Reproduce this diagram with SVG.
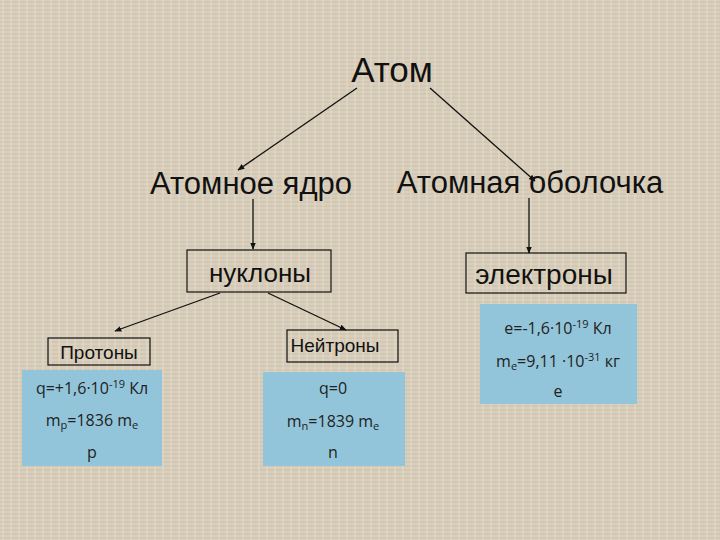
<svg xmlns="http://www.w3.org/2000/svg" width="720" height="540" viewBox="0 0 720 540">
<defs>
<marker id="ah" viewBox="0 0 10 10" refX="9" refY="5" markerWidth="7" markerHeight="7" orient="auto" markerUnits="userSpaceOnUse">
<path d="M0,1 L10,5 L0,9 z" fill="#111"/>
</marker>
<pattern id="tex" width="8" height="8" patternUnits="userSpaceOnUse">
<rect width="8" height="8" fill="#d9cfbd"/>
<path d="M0,2 H8 M0,6 H8" stroke="#cdbfa9" stroke-width="1"/>
<path d="M3,0 V8" stroke="#e4dccb" stroke-width="1"/>
</pattern>
</defs>
<style>
.big{font-family:"Liberation Sans",Arial,sans-serif;fill:#111;text-anchor:middle}
.sm{font-family:"Open Sans","Liberation Sans",sans-serif;fill:#222;text-anchor:middle;font-size:16px}
.box{fill:none;stroke:#111;stroke-width:1.2}
.blue{fill:#93c5da}
.con{stroke:#111;stroke-width:1.3;fill:none;marker-end:url(#ah)}
</style>
<rect width="720" height="540" fill="url(#tex)"/>
<g id="connectors">
<line class="con" x1="357" y1="88" x2="238" y2="170"/>
<line class="con" x1="430" y1="88" x2="535" y2="181"/>
<line class="con" x1="253" y1="199" x2="253" y2="249"/>
<line class="con" x1="529" y1="198" x2="529" y2="253"/>
<line class="con" x1="220" y1="293" x2="115" y2="331"/>
<line class="con" x1="268" y1="293" x2="346" y2="330"/>
</g>
<g id="atom"><text class="big" x="392" y="82" font-size="35">Атом</text></g>
<g id="nucleus"><text class="big" x="251" y="194" font-size="31">Атомное ядро</text></g>
<g id="shell"><text class="big" x="530" y="193" font-size="31">Атомная оболочка</text></g>
<g id="nucleons"><rect class="box" x="187" y="250" width="144" height="42"/><text class="big" x="260" y="282" font-size="26">нуклоны</text></g>
<g id="electrons"><rect class="box" x="466" y="253" width="160" height="40"/><text class="big" x="544" y="284" font-size="28">электроны</text></g>
<g id="protons"><rect class="box" x="48" y="338" width="102" height="27"/><text class="big" x="99" y="359" font-size="19">Протоны</text></g>
<g id="neutrons"><rect class="box" x="287" y="330" width="111" height="32"/><text class="big" x="335" y="352" font-size="19">Нейтроны</text></g>
<g id="proton-props"><rect class="blue" x="22" y="370" width="140" height="96"/>
<text class="sm" x="92" y="394">q=+1,6·10<tspan dy="-6" font-size="11">-19</tspan><tspan dy="6"> Кл</tspan></text>
<text class="sm" x="92" y="426">m<tspan dy="3" font-size="11">p</tspan><tspan dy="-3">=1836 m</tspan><tspan dy="3" font-size="11">e</tspan></text>
<text class="sm" x="92" y="458">p</text></g>
<g id="neutron-props"><rect class="blue" x="263" y="372" width="142" height="94"/>
<text class="sm" x="333" y="394">q=0</text>
<text class="sm" x="333" y="427">m<tspan dy="3" font-size="11">n</tspan><tspan dy="-3">=1839 m</tspan><tspan dy="3" font-size="11">e</tspan></text>
<text class="sm" x="333" y="458">n</text></g>
<g id="electron-props"><rect class="blue" x="480" y="304" width="157" height="100"/>
<text class="sm" x="558" y="334">e=-1,6·10<tspan dy="-6" font-size="11">-19</tspan><tspan dy="6"> Кл</tspan></text>
<text class="sm" x="558" y="367">m<tspan dy="3" font-size="11">e</tspan><tspan dy="-3">=9,11 ·10</tspan><tspan dy="-6" font-size="11">-31</tspan><tspan dy="6"> кг</tspan></text>
<text class="sm" x="558" y="397">e</text></g>
</svg>
